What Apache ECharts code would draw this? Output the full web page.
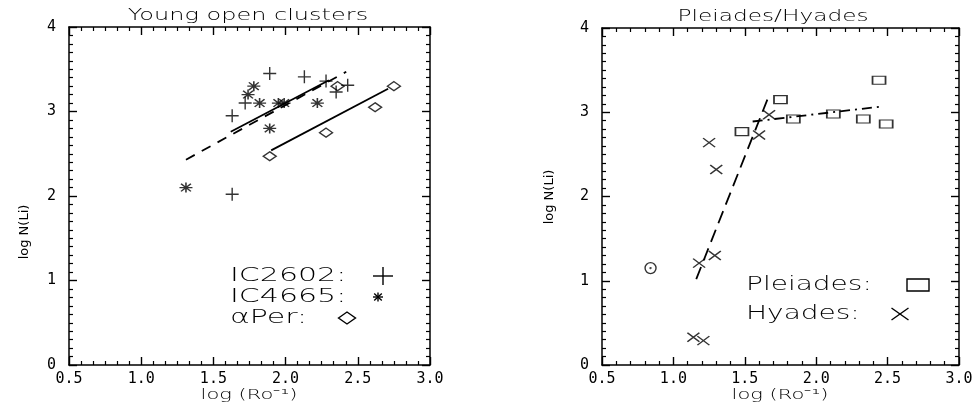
<!DOCTYPE html>
<html><head><meta charset="utf-8">
<script src="https://cdn.jsdelivr.net/npm/echarts@6/dist/echarts.min.js"></script>
<style>html,body{margin:0;padding:0;background:#fff}#c{width:977px;height:407px}</style>
</head><body><div id="c"></div>
<script>
// ---------- data ----------
const xTicks = [0.5, 1.0, 1.5, 2.0, 2.5, 3.0];
const yTicks = [0, 1, 2, 3, 4];

// Left panel: Young open clusters
const ic2602 = [[1.89,3.45],[2.13,3.41],[2.28,3.36],[2.43,3.31],[2.35,3.23],[1.72,3.10],[1.63,2.95],[1.63,2.02]];
const ic4665 = [[1.78,3.30],[1.74,3.20],[1.82,3.10],[1.95,3.10],[1.99,3.10],[2.22,3.10],[1.89,2.80],[1.31,2.10]];
const alphaPer = [[1.89,2.47],[2.28,2.75],[2.36,3.30],[2.62,3.05],[2.75,3.30]];
const fitIC2602 = [[1.62,2.76],[2.30,3.37]];
const fitIC4665 = [[1.31,2.43],[2.42,3.47]];
const fitAlphaPer = [[1.90,2.54],[2.71,3.27]];

// Right panel: Pleiades / Hyades
const pleiades = [[1.48,2.77],[1.75,3.15],[1.84,2.92],[2.12,2.98],[2.33,2.92],[2.44,3.38],[2.49,2.86]];
const hyades = [[1.25,2.64],[1.30,2.32],[1.60,2.73],[1.67,2.97],[1.18,1.21],[1.29,1.30],[1.14,0.33],[1.21,0.29]];
const sun = [[0.84,1.15]];
const fitHyades = [[1.16,1.02],[1.665,3.18]];
const fitPleiades = [[1.555,2.89],[2.47,3.07]];

// ---------- styles ----------
const P_PLUS = 'path://M0,5L10,5M5,0L5,10';
const P_AST = 'path://M0,5L10,5M5,0L5,10M1.2,1.2L8.8,8.8M1.2,8.8L8.8,1.2';
const P_X = 'path://M0,0L10,10M0,10L10,0';
const P_SUN = 'path://M10,5A5,5 0 1 1 0,5A5,5 0 1 1 10,5ZM5.4,5A0.4,0.4 0 1 1 4.6,5A0.4,0.4 0 1 1 5.4,5Z';
const hollow = {color:'rgba(0,0,0,0)', borderColor:'#000', borderWidth:1.4};
const TXT = 'DejaVu Sans';
const STK = {stroke:'#000', lineWidth:1.4, fill:'none'};

function mkX(grid, pos, labels, minorSplit){
  return {type:'value', gridIndex:grid, position:pos, min:0.5, max:3.0, interval:0.5,
    axisLine:{show:true, onZero:false, lineStyle:{color:'#000', width:1.5}},
    axisTick:{show:true, inside:true, length:8, lineStyle:{color:'#000', width:1.4}},
    minorTick:{show:true, splitNumber:minorSplit, length:4, lineStyle:{color:'#000', width:1.2}},
    splitLine:{show:false},
    axisLabel:{show:labels, color:'#000', fontFamily:'DejaVu Sans Mono', fontSize:15, margin:7,
      formatter:v=>{const t=xTicks.find(k=>Math.abs(k-v)<1e-6);return t===undefined?'':t.toFixed(1);}}};
}
function mkY(grid, pos, labels){
  return {type:'value', gridIndex:grid, position:pos, min:0, max:4, interval:1,
    axisLine:{show:true, onZero:false, lineStyle:{color:'#000', width:1.5}},
    axisTick:{show:true, inside:true, length:8, lineStyle:{color:'#000', width:1.4}},
    minorTick:{show:true, splitNumber:10, length:4, lineStyle:{color:'#000', width:1.2}},
    splitLine:{show:false},
    axisLabel:{show:labels, color:'#000', fontFamily:'DejaVu Sans Mono', fontSize:15, margin:13,
      formatter:v=>{const t=yTicks.find(k=>Math.abs(k-v)<1e-6);return t===undefined?'':String(t);}}};
}
function scat(name, data, xi, yi, symbol, size){
  return {type:'scatter', name, data, xAxisIndex:xi, yAxisIndex:yi, symbol, symbolSize:size,
    itemStyle:hollow, emphasis:{disabled:true}, z:3};
}
function fit(name, data, xi, yi, type){
  return {type:'line', name, data, xAxisIndex:xi, yAxisIndex:yi, showSymbol:false, symbol:'none',
    lineStyle:{color:'#000', width:1.8, type}, emphasis:{disabled:true}, z:2};
}
function txt(x, y, text, size, sx, align, rot, weight){
  return {type:'text', x, y, rotation:rot||0, scaleX:sx, scaleY:1,
    style:{text, fontFamily:TXT, fontSize:size, fontWeight:weight||200, fill:'#000', textAlign:align||'left', textVerticalAlign:'middle'}};
}
function ln(x1,y1,x2,y2){ return {type:'line', shape:{x1,y1,x2,y2}, style:STK}; }
function keyPlus(cx,cy,w,h){ return {type:'group', children:[ln(cx-w/2,cy,cx+w/2,cy), ln(cx,cy-h/2,cx,cy+h/2)]}; }
function keyAst(cx,cy,w,h){ const a=w*0.38,b=h*0.38; return {type:'group', children:[ln(cx-w/2,cy,cx+w/2,cy), ln(cx,cy-h/2,cx,cy+h/2), ln(cx-a,cy-b,cx+a,cy+b), ln(cx-a,cy+b,cx+a,cy-b)]}; }
function keyX(cx,cy,w,h){ return {type:'group', children:[ln(cx-w/2,cy-h/2,cx+w/2,cy+h/2), ln(cx-w/2,cy+h/2,cx+w/2,cy-h/2)]}; }
function keyDiamond(cx,cy,w,h){ return {type:'polygon', shape:{points:[[cx-w/2,cy],[cx,cy-h/2],[cx+w/2,cy],[cx,cy+h/2]]}, style:STK}; }
function keyRect(cx,cy,w,h){ return {type:'rect', shape:{x:cx-w/2,y:cy-h/2,width:w,height:h}, style:STK}; }

const chart = echarts.init(document.getElementById('c'), null, {renderer:'canvas'});
chart.setOption({
  animation:false,
  backgroundColor:'#fff',
  grid:[{left:69, top:27, width:361, height:338},{left:602, top:28, width:357, height:337}],
  xAxis:[mkX(0,'bottom',true,6), mkX(0,'top',false,6), mkX(1,'bottom',true,5), mkX(1,'top',false,5)],
  yAxis:[mkY(0,'left',true), mkY(0,'right',false), mkY(1,'left',true), mkY(1,'right',false)],
  series:[
    fit('IC4665 fit', fitIC4665, 0, 0, [10,8]),
    fit('IC2602 fit', fitIC2602, 0, 0, 'solid'),
    fit('αPer fit', fitAlphaPer, 0, 0, 'solid'),
    scat('IC2602', ic2602, 0, 0, P_PLUS, [13,13]),
    scat('IC4665', ic4665, 0, 0, P_AST, [13,10]),
    scat('αPer', alphaPer, 0, 0, 'diamond', [13,9]),
    fit('Hyades fit', fitHyades, 2, 2, [13,7]),
    fit('Pleiades fit', fitPleiades, 2, 2, [10,5,2,5]),
    scat('Pleiades', pleiades, 2, 2, 'rect', [13,8]),
    scat('Hyades', hyades, 2, 2, P_X, [12,9]),
    scat('Sun', sun, 2, 2, P_SUN, [11,11])
  ],
  graphic:[
    txt(248, 16, 'Young open clusters', 15, 1.6, 'center'),
    txt(773, 17, 'Pleiades/Hyades', 15, 1.55, 'center'),
    txt(249, 395, 'log (Ro⁻¹)', 14, 1.5, 'center'),
    txt(780, 395, 'log (Ro⁻¹)', 14, 1.5, 'center'),
    txt(25, 232, 'log N(Li)', 13, 1, 'center', Math.PI/2, 'normal'),
    txt(550, 197, 'log N(Li)', 13, 1, 'center', Math.PI/2, 'normal'),
    txt(230, 276, 'IC2602:', 20, 1.5),
    txt(230, 297, 'IC4665:', 20, 1.5),
    txt(230, 318, 'αPer:', 20, 1.5),
    keyPlus(383, 276, 20, 18),
    keyAst(378, 297, 10, 9),
    keyDiamond(347, 318, 17, 12),
    txt(746, 285, 'Pleiades:', 20, 1.4),
    txt(746, 314, 'Hyades:', 20, 1.4),
    keyRect(918, 285, 22, 12),
    keyX(900, 314, 17, 12)
  ]
});
</script></body></html>
